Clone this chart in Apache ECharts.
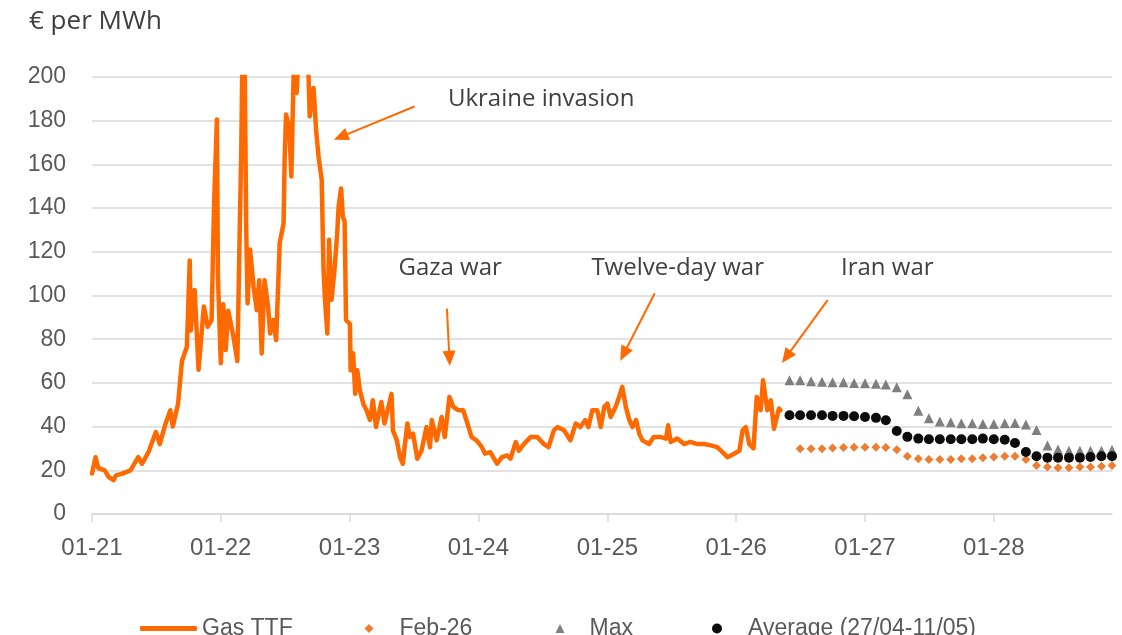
<!DOCTYPE html>
<html>
<head>
<meta charset="utf-8">
<script src="https://cdn.jsdelivr.net/npm/echarts@6.0.0/dist/echarts.min.js"></script>
<style>
  html, body { margin: 0; padding: 0; background: #fff; }
  #chart { width: 1122px; height: 635px; }
</style>
</head>
<body>
<div id="chart"></div>
<script>
// Gas TTF front-month price (date, EUR/MWh)
const ttf2021 = [
  ['2021-01-01', 18.5], ['2021-01-11', 26], ['2021-01-19', 21], ['2021-02-06', 20],
  ['2021-02-17', 17], ['2021-03-03', 15.5], ['2021-03-10', 17.7], ['2021-03-28', 18.5],
  ['2021-04-20', 20], ['2021-05-12', 26], ['2021-05-23', 23], ['2021-06-10', 28.3],
  ['2021-07-01', 37.5], ['2021-07-12', 32], ['2021-07-27', 40.6], ['2021-08-11', 47.5],
  ['2021-08-18', 40], ['2021-09-02', 50.5], ['2021-09-13', 70], ['2021-09-27', 76.5],
  ['2021-10-05', 116], ['2021-10-08', 84], ['2021-10-19', 102.5], ['2021-10-30', 66],
  ['2021-11-14', 95], ['2021-11-25', 85.7], ['2021-12-06', 88.8], ['2021-12-13', 142],
  ['2021-12-21', 180.5], ['2021-12-24', 108.6]
];
const ttf2022 = [
  ['2022-01-01', 69], ['2022-01-08', 96], ['2022-01-15', 75], ['2022-01-22', 93],
  ['2022-02-06', 81], ['2022-02-17', 70], ['2022-02-24', 133], ['2022-02-28', 165],
  ['2022-03-04', 220], ['2022-03-08', 240], ['2022-03-14', 131.6], ['2022-03-18', 96.4],
  ['2022-03-25', 121], ['2022-04-04', 104], ['2022-04-13', 93.3], ['2022-04-20', 107],
  ['2022-04-27', 73.5], ['2022-05-05', 107], ['2022-05-15', 95], ['2022-05-21', 82.6],
  ['2022-05-30', 88.8], ['2022-06-07', 79.6], ['2022-06-17', 124], ['2022-06-28', 133],
  ['2022-07-01', 162], ['2022-07-05', 182.8], ['2022-07-14', 177], ['2022-07-20', 154.5],
  ['2022-07-27', 205], ['2022-08-04', 192.7], ['2022-08-11', 215], ['2022-08-22', 260],
  ['2022-09-06', 205], ['2022-09-10', 182], ['2022-09-21', 195], ['2022-09-28', 176],
  ['2022-10-05', 163.7], ['2022-10-14', 153], ['2022-10-19', 113], ['2022-10-23', 99],
  ['2022-10-30', 82.6], ['2022-11-04', 125.5], ['2022-11-11', 98], ['2022-11-20', 113],
  ['2022-11-27', 128.5], ['2022-12-01', 140.7], ['2022-12-08', 149], ['2022-12-13', 136],
  ['2022-12-18', 134], ['2022-12-22', 88.8]
];
const ttf2023 = [
  ['2023-01-02', 87], ['2023-01-04', 65.8], ['2023-01-11', 73.6], ['2023-01-17', 55],
  ['2023-01-23', 65.8], ['2023-01-30', 56.7], ['2023-02-09', 50.5], ['2023-02-18', 47.5],
  ['2023-02-28', 43], ['2023-03-08', 52], ['2023-03-17', 39.8], ['2023-04-01', 51.3],
  ['2023-04-10', 41.4], ['2023-04-30', 55], ['2023-05-04', 38.3], ['2023-05-15', 33.7],
  ['2023-05-24', 26], ['2023-06-01', 23], ['2023-06-07', 32], ['2023-06-14', 41.4],
  ['2023-06-21', 35.2], ['2023-06-30', 36.8], ['2023-07-12', 25.3], ['2023-07-24', 29],
  ['2023-08-07', 39.8], ['2023-08-17', 30.6], ['2023-08-22', 43], ['2023-09-05', 33.7],
  ['2023-09-19', 44.4], ['2023-09-28', 35.2], ['2023-10-11', 53.6], ['2023-10-22', 49],
  ['2023-11-05', 47.5], ['2023-11-19', 47.5], ['2023-11-28', 43], ['2023-12-13', 35.2],
  ['2023-12-27', 33.7]
];
const ttf2024 = [
  ['2024-01-11', 30.6], ['2024-01-20', 27.6], ['2024-02-04', 28.3], ['2024-02-23', 23],
  ['2024-03-08', 26], ['2024-03-23', 26.8], ['2024-04-01', 25.3], ['2024-04-16', 32.9],
  ['2024-04-25', 29], ['2024-05-09', 32], ['2024-05-28', 35.2], ['2024-06-16', 35.2],
  ['2024-07-05', 32], ['2024-07-18', 30.6], ['2024-08-02', 38.3], ['2024-08-12', 39.8],
  ['2024-08-31', 38.3], ['2024-09-18', 33.7], ['2024-10-03', 41.4], ['2024-10-16', 39.8],
  ['2024-10-30', 43], ['2024-11-08', 39.8], ['2024-11-19', 47.5], ['2024-12-03', 47.5],
  ['2024-12-13', 39.8], ['2024-12-23', 49]
];
const ttf2025 = [
  ['2025-01-01', 50.5], ['2025-01-10', 44.4], ['2025-01-24', 49], ['2025-02-03', 53.6],
  ['2025-02-12', 58.2], ['2025-02-22', 49], ['2025-03-04', 43], ['2025-03-13', 39.8],
  ['2025-03-23', 43], ['2025-04-01', 36.8], ['2025-04-10', 33.7], ['2025-04-29', 32],
  ['2025-05-12', 35.2], ['2025-06-02', 35.2], ['2025-06-16', 34.5], ['2025-06-22', 40.6],
  ['2025-06-29', 33], ['2025-07-18', 34.5], ['2025-08-06', 32], ['2025-08-24', 33],
  ['2025-09-13', 32], ['2025-10-02', 32], ['2025-10-21', 31.4], ['2025-11-08', 30.6],
  ['2025-11-23', 28.3], ['2025-12-07', 26], ['2025-12-26', 27.6]
];
const ttf2026 = [
  ['2026-01-10', 29], ['2026-01-19', 38.3], ['2026-01-28', 39.8], ['2026-02-07', 32],
  ['2026-02-19', 30], ['2026-02-28', 53.6], ['2026-03-11', 47.5], ['2026-03-18', 61.2],
  ['2026-03-30', 47.5], ['2026-04-09', 52], ['2026-04-18', 39], ['2026-05-02', 48.3],
  ['2026-05-06', 47.5]
];

// monthly forward curves, Jun-26 .. Dec-28
const months = [
  '2026-06-01', '2026-07-01', '2026-08-01', '2026-09-01', '2026-10-01', '2026-11-01', '2026-12-01',
  '2027-01-01', '2027-02-01', '2027-03-01', '2027-04-01', '2027-05-01', '2027-06-01',
  '2027-07-01', '2027-08-01', '2027-09-01', '2027-10-01', '2027-11-01', '2027-12-01',
  '2028-01-01', '2028-02-01', '2028-03-01', '2028-04-01', '2028-05-01', '2028-06-01',
  '2028-07-01', '2028-08-01', '2028-09-01', '2028-10-01', '2028-11-01', '2028-12-01'
];
const feb26 = [
  null, 29.9, 29.9, 29.9, 30.2, 30.4, 30.6, 30.6, 30.6, 30.4, 29.4, 26.4, 25.3,
  25.0, 25.0, 25.0, 25.3, 25.3, 25.8, 26.1, 26.4, 26.4, 25.0, 22.2, 21.5,
  21.2, 21.2, 21.5, 21.5, 21.8, 22.2
];
const maxCurve = [
  61.2, 61.2, 60.8, 60.5, 60.3, 60.3, 60.0, 59.8, 59.6, 59.3, 58.0, 54.8, 47.3,
  43.8, 42.3, 42.0, 41.5, 41.5, 41.2, 41.2, 41.5, 41.7, 41.0, 38.5, 31.3,
  29.5, 29.0, 29.0, 29.0, 29.0, 29.3
];
const avgCurve = [
  45.2, 45.2, 45.2, 45.2, 44.9, 44.9, 44.7, 44.4, 44.0, 42.9, 38.0, 35.3, 34.5,
  34.2, 34.2, 34.2, 34.2, 34.2, 34.5, 34.2, 34.0, 32.5, 28.4, 26.4, 25.8,
  25.8, 25.8, 25.8, 26.1, 26.4, 26.4
];

const yearTicks = ['2021-01-01', '2022-01-01', '2023-01-01', '2024-01-01',
  '2025-01-01', '2026-01-01', '2027-01-01', '2028-01-01'];

// event labels and arrows: [label, label position, arrow from, arrow to]
const events = [
  ['Ukraine invasion', ['2024-06-27', 190], ['2023-07-04', 186.5], ['2022-12-07', 172.6]],
  ['Gaza war', ['2023-10-13', 112.6], ['2023-10-04', 94], ['2023-10-11', 71.2]],
  ['Twelve-day war', ['2025-07-19', 112.6], ['2025-05-15', 101], ['2025-02-16', 73.2]],
  ['Iran war', ['2027-03-05', 112.6], ['2026-09-17', 97.9], ['2026-05-23', 71.9]]
];

function ts(s) {
  const p = s.split('-');
  return new Date(+p[0], +p[1] - 1, +p[2]).getTime();
}
function pt(d) { return [ts(d[0]), d[1]]; }

const ttfData = [].concat(ttf2021, ttf2022, ttf2023, ttf2024, ttf2025, ttf2026).map(pt);
const curve = (vals) => months.map((m, i) => [ts(m), vals[i]]).filter(d => d[1] != null);

const txt = '#404040';
const axisTxt = '#595959';
const grid = '#d9d9d9';

const chart = echarts.init(document.getElementById('chart'));

// one legend per entry so each icon sits where Excel put it
function legendFor(name, left, icon, w, h, pad) {
  return {
    data: [{ name: name, icon: icon }],
    left: left, top: 617, padding: 0,
    itemWidth: w, itemHeight: h,
    selectedMode: false,
    textStyle: {
      fontFamily: 'Liberation Sans', fontSize: 23, color: axisTxt,
      padding: [0, 0, 0, pad]
    }
  };
}

chart.setOption({
  animation: false,
  backgroundColor: '#fff',
  title: {
    text: '€ per MWh', left: 24, top: 4,
    textStyle: { fontFamily: 'Open Sans', fontSize: 26, fontWeight: 'normal', color: txt }
  },
  grid: { left: 92, right: 10, top: 77, bottom: 121, outerBoundsMode: 'none' },
  legend: [
    legendFor('Gas TTF', 140, 'roundRect', 57, 5, 0),
    legendFor('Feb-26', 364.5, 'diamond', 9, 9, 21),
    legendFor('Max', 555.5, 'triangle', 9, 9, 20),
    legendFor('Average (27/04-11/05)', 712, 'circle', 10, 10, 21)
  ],
  xAxis: {
    type: 'value',
    min: ts('2021-01-01'),
    max: ts('2028-12-01'),
    axisLine: { lineStyle: { color: grid, width: 1.5 } },
    axisTick: { show: true, length: 8, customValues: yearTicks.map(ts), lineStyle: { color: grid, width: 1.5 } },
    splitLine: { show: false },
    axisLabel: {
      customValues: yearTicks.map(ts),
      margin: 22,
      fontFamily: 'Liberation Sans', fontSize: 24, color: axisTxt,
      formatter: function (v) {
        return '01-' + String(new Date(v).getFullYear()).slice(2);
      }
    }
  },
  yAxis: {
    type: 'value', min: 0, max: 200, interval: 20,
    axisLine: { show: false },
    axisTick: { show: false },
    splitLine: { lineStyle: { color: grid, width: 1.5 } },
    axisLabel: { margin: 26, fontFamily: 'Liberation Sans', fontSize: 23, color: axisTxt }
  },
  series: [
    {
      name: 'Gas TTF', type: 'line', data: ttfData,
      showSymbol: false, z: 3,
      lineStyle: { color: '#FF6A00', width: 4.5, join: 'round', cap: 'round' },
      itemStyle: { color: '#FF6A00' }
    },
    {
      name: 'Feb-26', type: 'scatter', data: curve(feb26),
      symbol: 'diamond', symbolSize: 9, itemStyle: { color: '#ED7D31', opacity: 1 }
    },
    {
      name: 'Max', type: 'scatter', data: curve(maxCurve),
      symbol: 'triangle', symbolSize: 10, itemStyle: { color: '#7F7F7F', opacity: 1 }
    },
    {
      name: 'Average (27/04-11/05)', type: 'scatter', data: curve(avgCurve),
      symbol: 'circle', symbolSize: 10, itemStyle: { color: '#0D0D0D', opacity: 1 }
    },
    {
      name: 'notes', type: 'line', data: [], silent: true,
      markLine: {
        silent: true,
        symbol: ['none', 'triangle'],
        symbolSize: [13, 15],
        lineStyle: { color: '#FF6A00', width: 2, type: 'solid' },
        label: { show: false },
        data: events.map(e => [{ coord: pt(e[2]) }, { coord: pt(e[3]) }])
      },
      markPoint: {
        silent: true,
        symbol: 'circle', symbolSize: 1,
        itemStyle: { color: 'rgba(0,0,0,0)' },
        label: {
          show: true, position: 'inside',
          fontFamily: 'Open Sans', fontSize: 24, color: txt,
          formatter: p => p.name
        },
        data: events.map(e => ({ name: e[0], coord: pt(e[1]) }))
      }
    }
  ]
});
</script>
</body>
</html>
